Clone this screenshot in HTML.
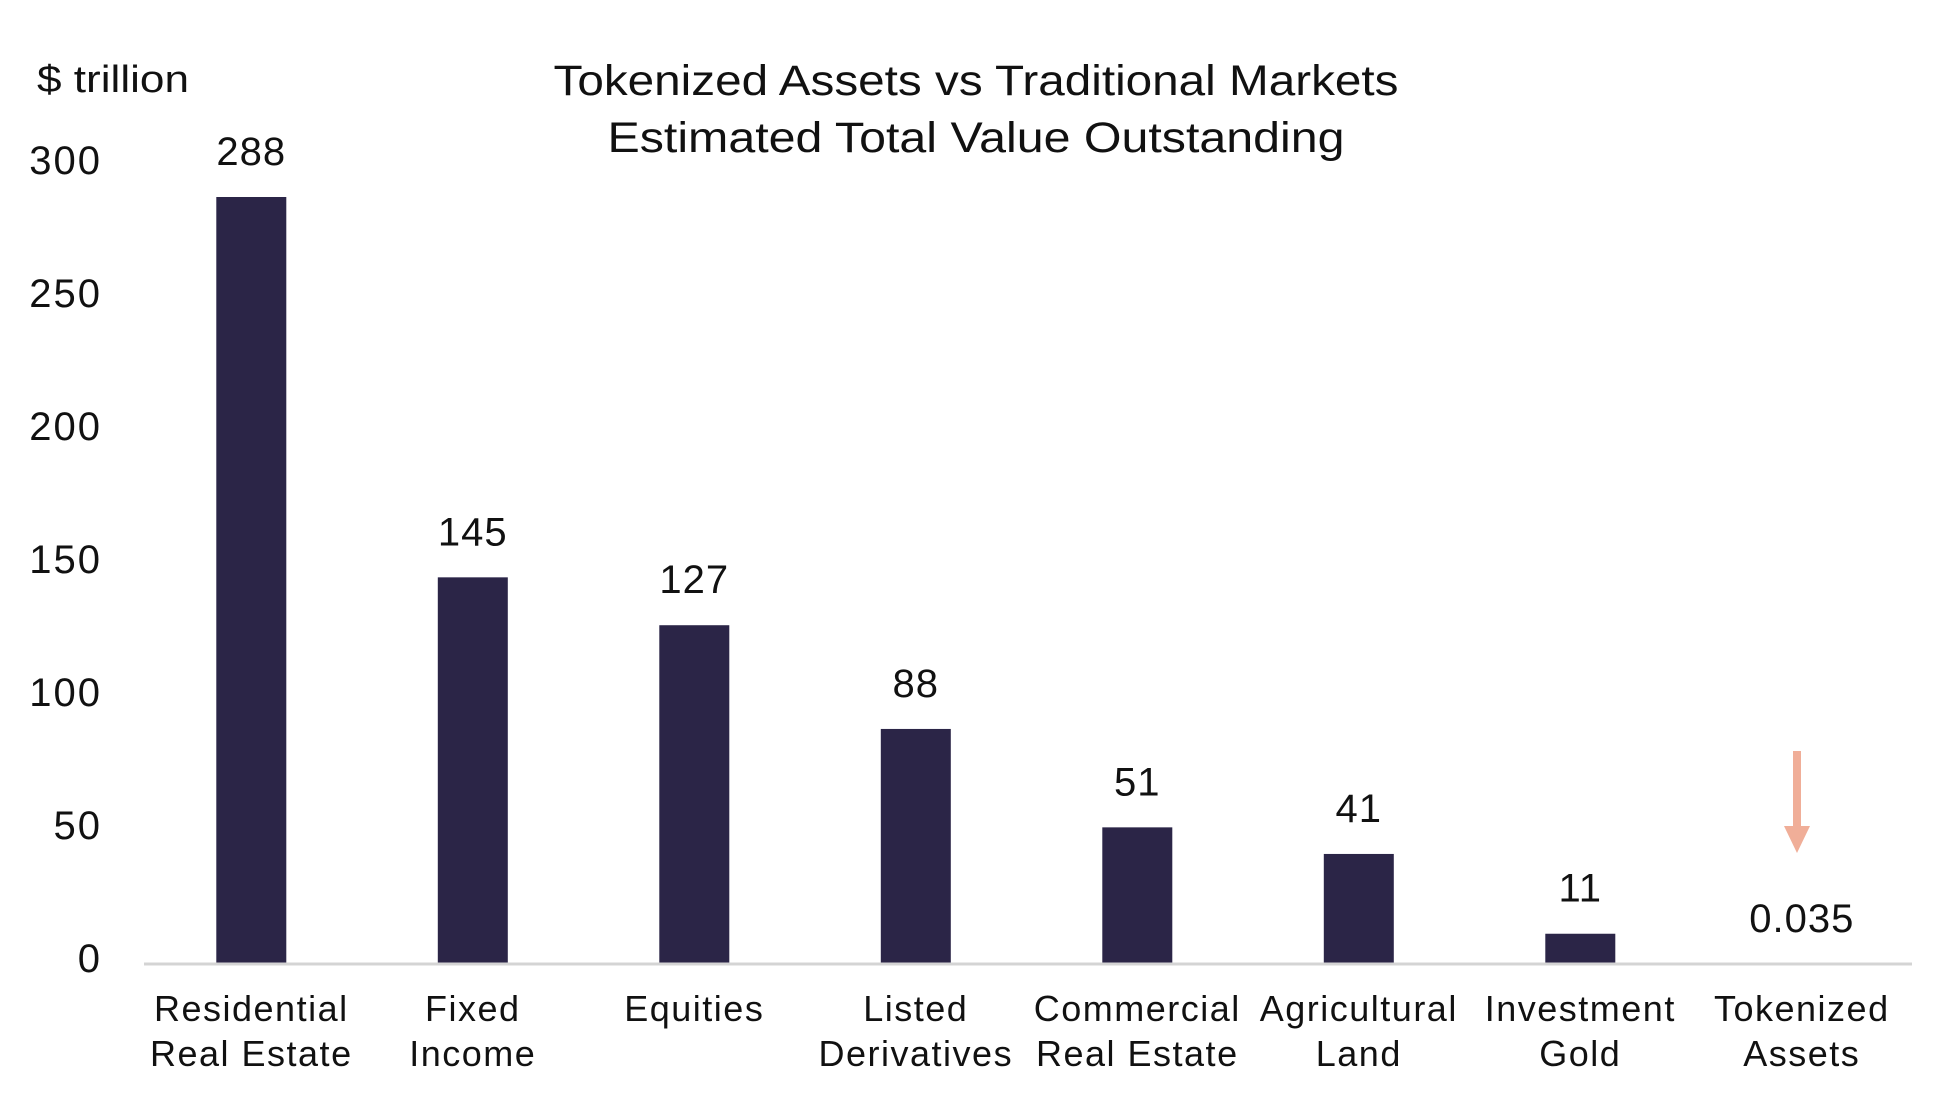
<!DOCTYPE html>
<html><head><meta charset="utf-8"><style>
body{margin:0;background:#fff}
svg text{font-family:"Liberation Sans",sans-serif;fill:#111}
</style></head><body>
<svg id="chart" width="1950" height="1104" xmlns="http://www.w3.org/2000/svg">
<text x="976" y="95" font-size="43" text-anchor="middle" textLength="845" lengthAdjust="spacingAndGlyphs">Tokenized Assets vs Traditional Markets</text>
<text x="976" y="152" font-size="43" text-anchor="middle" textLength="737" lengthAdjust="spacingAndGlyphs">Estimated Total Value Outstanding</text>
<text x="37" y="92" font-size="38" textLength="152" lengthAdjust="spacingAndGlyphs">$ trillion</text>
<g id="yt"></g><g id="bars"></g>
<line x1="144" x2="1912" y1="964" y2="964" stroke="#d4d4d4" stroke-width="3"/>
<g>
<line x1="1797" x2="1797" y1="751" y2="828" stroke="#f0ae98" stroke-width="8"/>
<polygon points="1784,826 1810,826 1797,853" fill="#f0ae98"/>
</g>
</svg>
<script>
const categories=[["Residential","Real Estate"],["Fixed","Income"],["Equities",""],["Listed","Derivatives"],["Commercial","Real Estate"],["Agricultural","Land"],["Investment","Gold"],["Tokenized","Assets"]];
const values=[288,145,127,88,51,41,11,0.035];
const valueLabels=["288","145","127","88","51","41","11","0.035"];
const yTicks=[0,50,100,150,200,250,300];
const NS="http://www.w3.org/2000/svg";
const y0=963, pxPerUnit=(963-197)/288;
function y(v){return y0-v*pxPerUnit;}
function x(i){return 251.3+i*221.5;}
function mk(t,a,p){const e=document.createElementNS(NS,t);for(const k in a)e.setAttribute(k,a[k]);p.appendChild(e);return e;}
const yt=document.getElementById('yt'), bars=document.getElementById('bars');
yTicks.forEach(v=>{const t=mk('text',{x:102,y:y(v)+9,'font-size':40,'text-anchor':'end','letter-spacing':2},yt);


t.textContent=v;});
values.forEach((v,i)=>{
 const cx=x(i);
 const r=mk('rect',{x:cx-35,y:y(v),width:70,height:y0-y(v),fill:'#2b2547'},bars);
 
 
 const last=i===values.length-1;
 const lt=mk('text',{x:cx,y:last?932:y(v)-32,'font-size':40,'text-anchor':'middle','letter-spacing':1},bars);
 
 
 lt.textContent=valueLabels[i];
 categories[i].forEach((s,j)=>{const c=mk('text',{x:cx,y:1021+j*45,'font-size':36,'text-anchor':'middle','letter-spacing':1.5},bars);
 
 
 c.textContent=s;});
});
</script>
</body></html>
